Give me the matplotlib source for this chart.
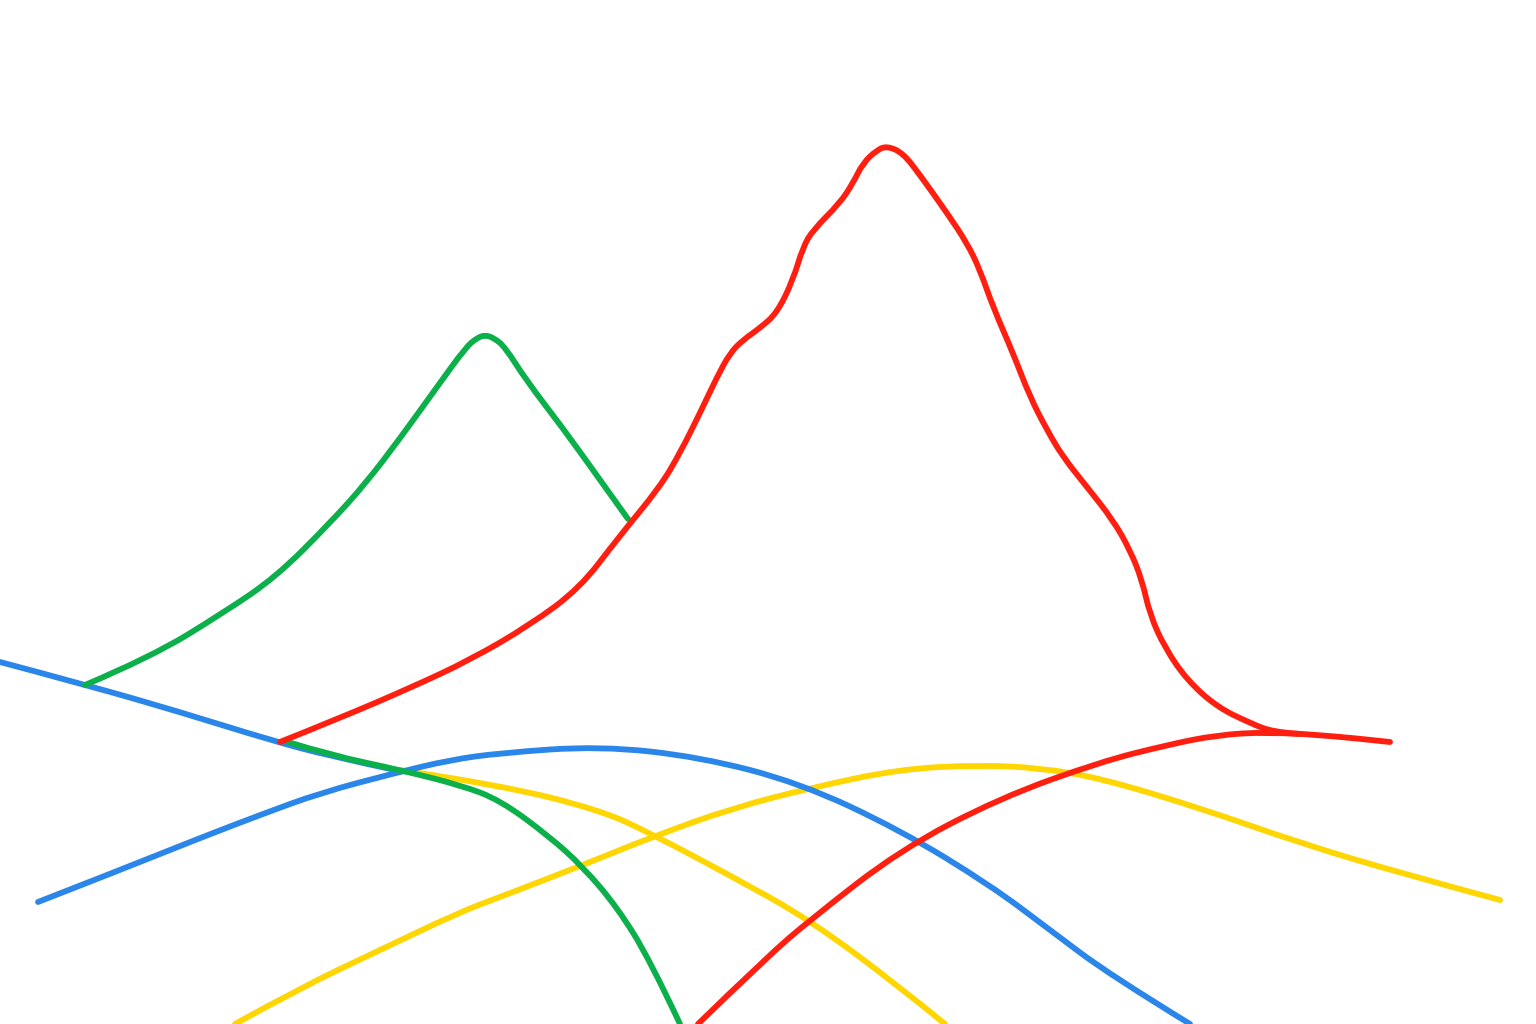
import numpy as np
import matplotlib
matplotlib.use('Agg')
import matplotlib.pyplot as plt
from matplotlib.path import Path
from matplotlib.patches import PathPatch

# points, in pixel coords (x right, y down)
green_peak_x = [85, 151, 223, 276, 330, 366, 401, 437, 466, 477, 485, 494, 505, 526, 562, 598, 628]
green_peak_y = [685, 657, 613, 577, 523, 483, 437, 387, 347, 338, 335, 338, 347, 380, 427, 477, 519]

green_low_x = [288, 330, 400, 460, 500, 550, 583, 617, 650, 680]
green_low_y = [742, 755, 770, 785, 800, 837, 867, 907, 960, 1024]

red_peak_x = [280, 340, 410, 470, 530, 580, 618, 660, 680, 700, 717, 730, 743, 760, 777, 793, 803, 813,
              840, 853, 863, 877, 887, 903, 920, 947, 967, 980, 993, 1013, 1030, 1047, 1063, 1087,
              1113, 1130, 1142, 1150, 1165, 1187, 1217, 1250, 1273, 1317, 1353, 1390]
red_peak_y = [742, 718, 688, 660, 625, 588, 538, 487, 453, 413, 377, 353, 340, 328, 313, 280, 247, 230,
              203, 183, 163, 150, 146, 153, 175, 213, 243, 270, 307, 353, 397, 430, 457, 487,
              520, 550, 580, 615, 648, 680, 707, 723, 732, 735, 738, 742]

red_low_x = [698, 767, 810, 900, 1000, 1100, 1167, 1217, 1267, 1300]
red_low_y = [1024, 957, 920, 850, 798, 762, 745, 735, 732, 734]

blue_top_x = [0, 90, 180, 270, 330, 395]
blue_top_y = [662, 686, 712, 740, 756, 770]

blue_arc_x = [38, 120, 200, 260, 320, 395, 450, 500, 600, 700, 800, 900, 990, 1050, 1110, 1190]
blue_arc_y = [902, 870, 838, 815, 793, 773, 760, 753, 746, 757, 783, 830, 885, 930, 975, 1024]

yellow_down_x = [400, 500, 600, 650, 733, 810, 900, 945]
yellow_down_y = [770, 785, 810, 833, 877, 920, 987, 1024]

yellow_up_x = [235, 300, 380, 460, 500, 583, 657, 733, 810, 900, 980, 1040, 1100, 1200, 1300, 1400, 1500]
yellow_up_y = [1024, 988, 950, 912, 897, 865, 835, 808, 788, 769, 765, 768, 778, 808, 843, 873, 900]

GREEN = '#0bb04a'
RED = '#ff1f10'
BLUE = '#2a86e8'
YELLOW = '#ffd600'


def smooth_path(xs, ys):
    # quadratic bezier through midpoints, so the stroke has no hard corners
    pts = list(zip(xs, ys))
    verts = [pts[0]]
    codes = [Path.MOVETO]
    for i in range(1, len(pts) - 1):
        if i == len(pts) - 2:
            end = pts[i + 1]
        else:
            end = ((pts[i][0] + pts[i + 1][0]) / 2, (pts[i][1] + pts[i + 1][1]) / 2)
        verts += [pts[i], end]
        codes += [Path.CURVE3, Path.CURVE3]
    if len(pts) == 2:
        verts.append(pts[1])
        codes.append(Path.LINETO)
    return Path(verts, codes)


fig = plt.figure(figsize=(15.36, 10.24), dpi=100)
ax = fig.add_axes([0, 0, 1, 1])

lines = [
    (yellow_down_x, yellow_down_y, YELLOW),
    (yellow_up_x, yellow_up_y, YELLOW),
    (blue_arc_x, blue_arc_y, BLUE),
    (red_low_x, red_low_y, RED),
    (blue_top_x, blue_top_y, BLUE),
    (green_low_x, green_low_y, GREEN),
    (green_peak_x, green_peak_y, GREEN),
    (red_peak_x, red_peak_y, RED),
]
for xs, ys, c in lines:
    ax.add_patch(PathPatch(smooth_path(xs, ys), facecolor='none', edgecolor=c, lw=4.2,
                           joinstyle='round', capstyle='round'))

ax.set_xlim(0, 1536)
ax.set_ylim(1024, 0)
ax.axis('off')

fig.savefig('out.png', dpi=100, facecolor='white')
